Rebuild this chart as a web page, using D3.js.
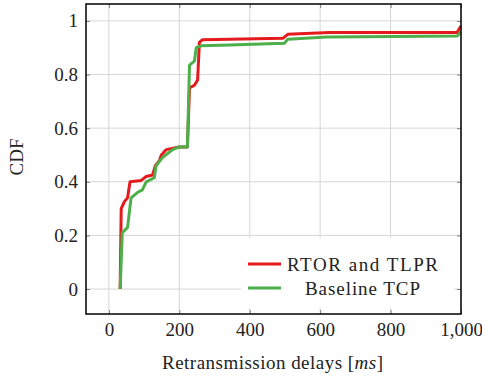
<!DOCTYPE html>
<html>
<head>
<meta charset="utf-8">
<script src="https://cdn.jsdelivr.net/npm/d3@7"></script>
<style>
	body { margin: 0; background: #fff; }
	svg text { font-family: "Liberation Serif", serif; fill: #222; }
</style>
</head>
<body>
<svg id="chart" width="482" height="376"></svg>
<script>
// CDF of retransmission delays
var rtorDelay = [32, 35, 44, 53, 60, 92, 106, 124, 132, 144, 149, 163, 200, 223, 229, 243, 252, 257, 266, 494, 508, 627, 989, 997, 1000];
var rtorCdf   = [0, 0.30, 0.326, 0.34, 0.40, 0.405, 0.42, 0.425, 0.46, 0.48, 0.50, 0.52, 0.53, 0.53, 0.75, 0.76, 0.78, 0.92, 0.93, 0.935, 0.95, 0.957, 0.957, 0.975, 0.98];

var baseDelay = [32, 38, 53, 63, 81, 95, 106, 129, 134, 152, 181, 200, 223, 229, 243, 248, 262, 343, 499, 508, 619, 989, 997, 1000];
var baseCdf   = [0, 0.21, 0.23, 0.34, 0.36, 0.37, 0.40, 0.415, 0.46, 0.49, 0.52, 0.53, 0.53, 0.835, 0.85, 0.90, 0.907, 0.91, 0.917, 0.932, 0.94, 0.944, 0.955, 0.96];

var xTicks = [0, 200, 400, 600, 800, 1000];
var yTicks = [0, 0.2, 0.4, 0.6, 0.8, 1];

var seriesNames = ["RTOR and TLPR", "Baseline TCP"];
var seriesColors = ["#e41a1c", "#4daf4a"];

var pLeft = 86, pRight = 461, pTop = 4, pBottom = 314;

var svg = d3.select('#chart');

var x = d3.scaleLinear().domain([-65, 1000]).range([pLeft, pRight]);
var y = d3.scaleLinear().domain([-0.093, 1.063]).range([pBottom, pTop]);

// grid
svg.append('g').selectAll('line')
	.data(xTicks).enter().append('line')
	.attr('x1', function(d){ return x(d); })
	.attr('x2', function(d){ return x(d); })
	.attr('y1', pTop).attr('y2', pBottom)
	.style('stroke', '#d6d6d6').style('stroke-width', 1);
svg.append('g').selectAll('line')
	.data(yTicks).enter().append('line')
	.attr('y1', function(d){ return y(d); })
	.attr('y2', function(d){ return y(d); })
	.attr('x1', pLeft).attr('x2', pRight)
	.style('stroke', '#d6d6d6').style('stroke-width', 1);

// inner ticks on all four sides
var fmtX = d3.format(',');
var fmtY = function(d){ return d === 0 || d === 1 ? String(d) : d.toFixed(1); };

var xAxisB = d3.axisBottom(x).tickValues(xTicks).tickSizeInner(-4).tickSizeOuter(0).tickPadding(9).tickFormat(fmtX);
var xAxisT = d3.axisTop(x).tickValues(xTicks).tickSizeInner(-4).tickSizeOuter(0).tickFormat('');
var yAxisL = d3.axisLeft(y).tickValues(yTicks).tickSizeInner(-4).tickSizeOuter(0).tickPadding(8).tickFormat(fmtY);
var yAxisR = d3.axisRight(y).tickValues(yTicks).tickSizeInner(-4).tickSizeOuter(0).tickFormat('');

[[xAxisB, 'translate(0,' + pBottom + ')'], [xAxisT, 'translate(0,' + pTop + ')'],
 [yAxisL, 'translate(' + pLeft + ',0)'], [yAxisR, 'translate(' + pRight + ',0)']].forEach(function(a){
	var g = svg.append('g').attr('transform', a[1]).call(a[0]);
	g.select('.domain').remove();
	g.selectAll('line').style('stroke', '#808080');
	g.selectAll('text').style('font-family', '"Liberation Serif", serif').style('font-size', '19px').style('fill', '#222');
});

// curves
var line = d3.line().x(function(d){ return x(d[0]); }).y(function(d){ return y(d[1]); });
var allSeries = [d3.zip(rtorDelay, rtorCdf), d3.zip(baseDelay, baseCdf)];
for(var s = 0; s < allSeries.length; s++){
	svg.append('path')
		.datum(allSeries[s])
		.attr('d', line)
		.style('fill', 'none')
		.style('stroke', seriesColors[s])
		.style('stroke-width', 3)
		.style('stroke-linejoin', 'round');
}

// legend
var lg = svg.append('g');
lg.append('rect')
	.attr('x', 241).attr('y', 238).attr('width', 213).attr('height', 70)
	.style('fill', '#fff');
var legY = [264, 288];
var legW = [151, 115];
for(var k = 0; k < seriesNames.length; k++){
	lg.append('line')
		.attr('x1', 248).attr('x2', 281)
		.attr('y1', legY[k]).attr('y2', legY[k])
		.style('stroke', seriesColors[k]).style('stroke-width', 3);
	lg.append('text')
		.attr('x', 362.5 - legW[k] / 2).attr('y', legY[k])
		.attr('dy', '0.35em')
		.attr('textLength', legW[k])
		.attr('lengthAdjust', 'spacing')
		.style('font-size', '19px')
		.text(seriesNames[k]);
}

// frame
svg.append('rect')
	.attr('x', pLeft).attr('y', pTop)
	.attr('width', pRight - pLeft).attr('height', pBottom - pTop)
	.style('fill', 'none').style('stroke', '#000').style('stroke-width', 1.5);

// axis titles
var xt = svg.append('text')
	.attr('x', 162).attr('y', 362)
	.attr('dy', '0.35em')
	.attr('textLength', 221)
	.attr('lengthAdjust', 'spacing')
	.style('font-size', '19px');
xt.append('tspan').text('Retransmission delays [');
xt.append('tspan').style('font-style', 'italic').text('ms');
xt.append('tspan').text(']');

svg.append('text')
	.attr('transform', 'translate(16,157) rotate(-90)')
	.attr('dy', '0.35em')
	.attr('text-anchor', 'middle')
	.style('font-size', '19px')
	.text('CDF');
</script>
</body>
</html>
